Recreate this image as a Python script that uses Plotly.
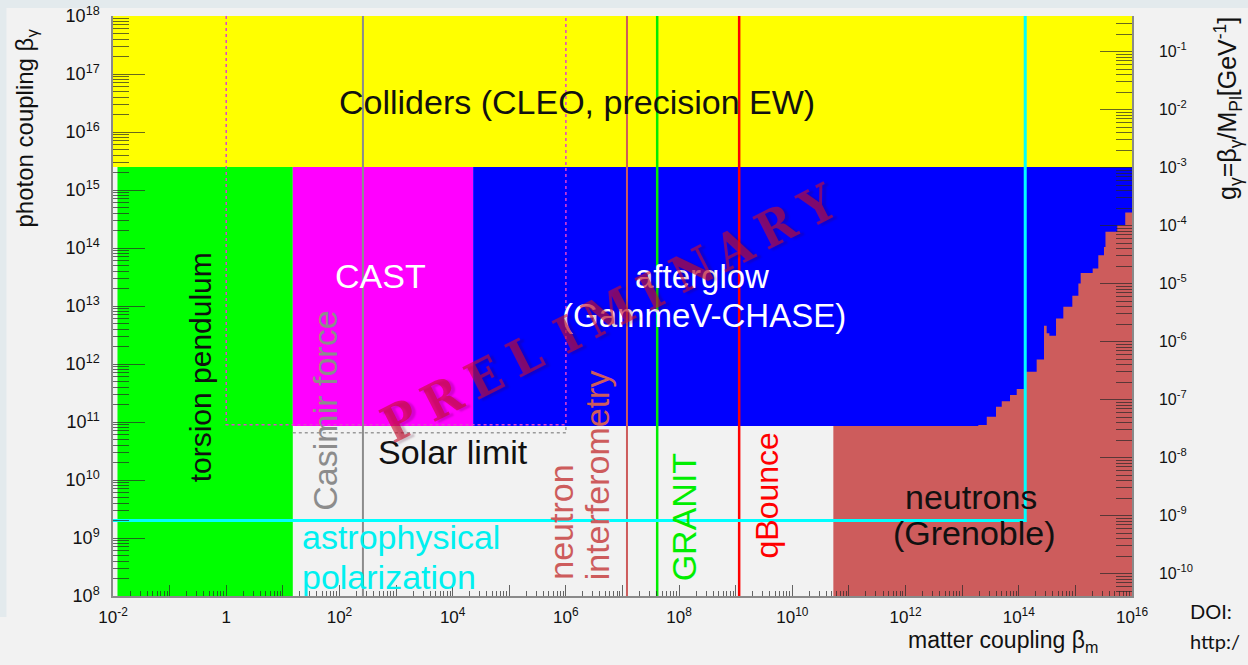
import numpy as np
import plotly.graph_objects as go

# ---- axis extents -------------------------------------------------------
BETA_M_RANGE = [1e-2, 1e16]        # matter coupling
BETA_G_RANGE = [1e8, 1e18]         # photon coupling
M_PL = 2.435e18                    # reduced Planck mass [GeV]

# ---- excluded regions ---------------------------------------------------
collider_floor = 2.5e15
torsion_x = [1.2e-2, 15]
cast_x = [15, 2.3e4]
afterglow_x = [2.3e4, 1e16]
cast_floor = 8.5e10

# neutron (Grenoble) stepped bound: bin edges in beta_m and top in beta_gamma
neutron_edges = [5.3e10, 1.93e13, 2.72e13, 3.96e13, 5.0e13, 7.0e13, 9.2e13,
                 1.29e14, 2.07e14, 2.79e14, 3.11e14, 3.47e14, 4.55e14, 6.12e14,
                 8.83e14, 1.13e15, 1.24e15, 2.02e15, 2.54e15, 3.2e15, 3.4e15,
                 5.5e15, 7.6e15, 1e16]
neutron_tops = [8.5e10, 8.85e10, 1.23e11, 1.83e11, 2.29e11, 2.91e11, 3.69e11,
                7.33e11, 1.2e12, 4.55e12, 3.4e12, 3.06e12, 6.1e12, 9.7e12,
                1.5e13, 2.45e13, 3.72e13, 4.44e13, 7.5e13, 1.04e14, 1.9e14,
                2.5e14, 4.1e14]

# ---- single-value bounds ------------------------------------------------
casimir_x = 2.6e2
interferometry_x = 1.2e7
granit_x = 4.1e7
qbounce_x = 1.15e9
astro_y = 2.0e9
astro_x_end = 1.3e14
cast_box_x = [1, 1e6]
cast_box_y = [9e10, 1e18]
solar_y = 6.5e10
solar_x = [15, 1e6]

# ---- tick labels --------------------------------------------------------
x_exps = list(range(-2, 17))
x_ticktext = ["1" if e == 0 else (f"10<sup>{e}</sup>" if e % 2 == 0 else "")
              for e in x_exps]
y_exps = list(range(8, 19))
y_ticktext = [f"10<sup>{e}</sup>" for e in y_exps]
g_exps = list(range(-10, 0))
g_ticktext = [f"10<sup>{e}</sup>" for e in g_exps]

FONT = "Liberation Sans, Arial, Helvetica, sans-serif"


def box(x0, x1, y0, y1):
    return [x0, x1, x1, x0, x0], [y0, y0, y1, y1, y0]


fig = go.Figure()


def add_fill(xs, ys, color):
    fig.add_trace(go.Scatter(x=xs, y=ys, fill="toself", fillcolor=color,
                             mode="lines", line=dict(width=0),
                             hoverinfo="skip", showlegend=False))


def add_line(xs, ys, color, width, dash="solid"):
    fig.add_trace(go.Scatter(x=xs, y=ys, mode="lines",
                             line=dict(color=color, width=width, dash=dash),
                             hoverinfo="skip", showlegend=False))


# colliders
add_fill(*box(BETA_M_RANGE[0], BETA_M_RANGE[1], collider_floor, BETA_G_RANGE[1]), "#ffff00")
# torsion pendulum
add_fill(*box(torsion_x[0], torsion_x[1], BETA_G_RANGE[0], collider_floor), "#00ff00")
# CAST
add_fill(*box(cast_x[0], cast_x[1], cast_floor, collider_floor), "#ff00ff")
# afterglow
add_fill(*box(afterglow_x[0], afterglow_x[1], cast_floor, collider_floor), "#0000ff")

# neutrons (Grenoble) stepped region
nx, ny = [neutron_edges[0]], [BETA_G_RANGE[0]]
for i, top in enumerate(neutron_tops):
    nx += [neutron_edges[i], neutron_edges[i + 1]]
    ny += [top, top]
nx += [neutron_edges[-1], neutron_edges[0]]
ny += [BETA_G_RANGE[0], BETA_G_RANGE[0]]
add_fill(nx, ny, "#cd5c5c")

# dotted outlines
add_line([cast_box_x[0], cast_box_x[0], cast_box_x[1], cast_box_x[1]],
         [cast_box_y[1], cast_box_y[0], cast_box_y[0], cast_box_y[1]],
         "#e040d0", 1.5, "dot")
add_line([solar_x[0], solar_x[1], solar_x[1]], [solar_y, solar_y, cast_floor],
         "#9a9a9a", 1.5, "dot")

# vertical bounds
add_line([casimir_x, casimir_x], BETA_G_RANGE, "#8c8c8c", 2)
add_line([interferometry_x, interferometry_x], BETA_G_RANGE, "#cd5c5c", 2)
add_line([granit_x, granit_x], BETA_G_RANGE, "#00ee00", 2.5)
add_line([qbounce_x, qbounce_x], BETA_G_RANGE, "#ff0000", 2.5)
# astrophysical polarization
add_line([BETA_M_RANGE[0], astro_x_end, astro_x_end],
         [astro_y, astro_y, BETA_G_RANGE[1]], "#00ffff", 3)

# carrier for the right-hand g axis
fig.add_trace(go.Scatter(x=[1], y=[1e-5], yaxis="y2", mode="markers",
                         marker=dict(opacity=0), hoverinfo="skip", showlegend=False))

TICKC = "rgba(40,40,40,0.7)"
fig.update_layout(
    width=1248, height=665,
    margin=dict(l=112.5, r=116, t=16, b=69, autoexpand=False),
    paper_bgcolor="#f2f2f2", plot_bgcolor="#f2f2f2",
    font=dict(family=FONT, color="#111"),
    xaxis=dict(type="log", range=[-2, 16], showgrid=False, zeroline=False,
               automargin=False,
               tickmode="array", tickvals=[10.0 ** e for e in x_exps],
               ticktext=x_ticktext, ticks="inside", ticklen=11, tickcolor=TICKC,
               tickfont=dict(size=17, color="#111"), ticklabelstandoff=5,
               minor=dict(ticks="inside", ticklen=5, tickcolor=TICKC,
                          tickmode="array",
                          tickvals=[m * 10.0 ** e for e in x_exps[:-1] for m in range(2, 10)]),
               showline=True, linecolor="#8a8a8a", linewidth=1.5),
    yaxis=dict(type="log", range=[8, 18], showgrid=False, zeroline=False,
               automargin=False,
               tickmode="array", tickvals=[10.0 ** e for e in y_exps],
               ticktext=y_ticktext, ticks="inside", ticklen=32, tickcolor=TICKC,
               tickfont=dict(size=18, color="#111"), ticklabelstandoff=8,
               minor=dict(ticks="inside", ticklen=16, tickcolor=TICKC,
                          tickmode="array",
                          tickvals=[m * 10.0 ** e for e in y_exps[:-1] for m in range(2, 10)]),
               showline=True, linecolor="#8a8a8a", linewidth=1.5),
    yaxis2=dict(type="log", overlaying="y", side="right", automargin=False,
                range=[np.log10(BETA_G_RANGE[0] / M_PL), np.log10(BETA_G_RANGE[1] / M_PL)],
                showgrid=False, zeroline=False,
                tickmode="array", tickvals=[10.0 ** e for e in g_exps],
                ticktext=g_ticktext, ticks="inside", ticklen=32, tickcolor=TICKC,
                tickfont=dict(size=16, color="#111"), ticklabelstandoff=22,
                minor=dict(ticks="inside", ticklen=16, tickcolor=TICKC,
                           tickmode="array",
                           tickvals=[m * 10.0 ** e for e in range(-11, 0) for m in range(2, 10)]),
                showline=True, linecolor="#8a8a8a", linewidth=1.5),
    showlegend=False,
)

# page trim
fig.add_shape(type="rect", xref="paper", yref="paper", x0=-0.111, x1=1.115,
              y0=1.0138, y1=1.03, fillcolor="#e3eaed", line=dict(width=0), layer="below")
fig.add_shape(type="rect", xref="paper", yref="paper", x0=-0.111, x1=-0.1045,
              y0=-0.036, y1=1.0138, fillcolor="#e3eaed", line=dict(width=0), layer="below")


def label(text, x, y, color="#111", size=34, angle=0, align="center",
          xanchor="center", yanchor="middle"):
    fig.add_annotation(text=text, x=x, y=y, xref="x", yref="y", showarrow=False,
                       font=dict(family=FONT, size=size, color=color),
                       textangle=angle, align=align, xanchor=xanchor, yanchor=yanchor)


label("Colliders (CLEO, precision EW)", 6.20, 16.51)
label("torsion pendulum", -0.455, 11.95, angle=-90, size=30)
label("CAST", 2.72, 13.51, color="white")
label("Casimir force", 1.75, 11.2, color="#8c8c8c", angle=-90)
label("Solar limit", 4.01, 10.48)
label("afterglow", 8.40, 13.514, color="white", size=33)
label("(GammeV-CHASE)", 8.44, 12.842, color="white", size=33)
label("neutron", 5.90, 9.267, color="#cd5c5c", angle=-90)
label("interferometry", 6.554, 10.085, color="#cd5c5c", angle=-90)
label("GRANIT", 8.09, 9.36, color="#00ee00", angle=-90)
label("qBounce", 9.56, 9.74, color="#ff0000", angle=-90, size=32)
label("neutrons", 13.16, 9.706)
label("(Grenoble)", 13.21, 9.086)
label("astrophysical", 1.31, 9.017, color="#00f0f0", xanchor="left")
label("polarization", 1.31, 8.327, color="#00f0f0", xanchor="left")

# watermark, one letter at a time along a tilted baseline (log-axis units)
mark = "PRELIMINARY"
mark_start, mark_end = (3.076, 11.03), (10.44, 14.74)
for k, (wx, wy) in enumerate(zip(np.linspace(mark_start[0], mark_end[0], len(mark)),
                                 np.linspace(mark_start[1], mark_end[1], len(mark)))):
    fig.add_annotation(text=mark[k], x=wx, y=wy, xref="x", yref="y", showarrow=False,
                       textangle=-27,
                       font=dict(family="DejaVu Serif Condensed, DejaVu Serif, serif",
                                 size=50, color="rgba(200,15,45,0.62)", weight="bold",
                                 shadow="3px 3px 2px rgba(60,0,40,0.35)"))


def paper_label(text, px, py, size, angle=0, xanchor="center", family=FONT):
    fig.add_annotation(text=text, x=(px - 112.5) / 1019.5, y=(596 - py) / 580,
                       xref="paper", yref="paper", showarrow=False, textangle=angle,
                       xanchor=xanchor, yanchor="middle",
                       font=dict(family=family, size=size, color="#111"))


paper_label("photon coupling β<sub>γ</sub>", 25, 128, 24, angle=-90)
paper_label("g<sub>γ</sub>=β<sub>γ</sub>/M<sub>Pl</sub>[GeV<sup>-1</sup>]", 1228, 108, 25, angle=-90)
paper_label("matter coupling β<sub>m</sub>", 1003, 641, 23)
paper_label("DOI:", 1188, 611, 20, xanchor="left", family="Lato, Open Sans, sans-serif")
paper_label("http:/", 1188, 641, 20, xanchor="left", family="Lato, Open Sans, sans-serif")

fig.write_html("out.html")
